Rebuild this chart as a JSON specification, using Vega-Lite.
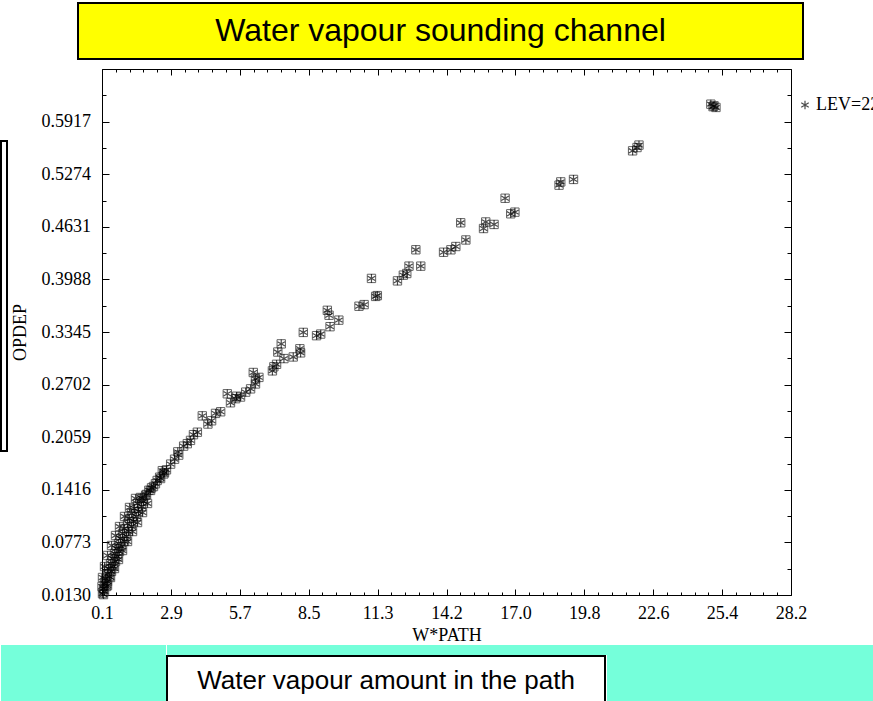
{
  "$schema": "https://vega.github.io/schema/vega-lite/v6.json",
  "background": "white",
  "padding": {"left": 0, "top": 2, "right": 0, "bottom": 0},
  "datasets": {
    "pts": [
      {"x":25.02,"y":0.610},{"x":25.14,"y":0.609},{"x":24.93,"y":0.613},{"x":25.06,"y":0.611},
      {"x":21.74,"y":0.556},{"x":21.92,"y":0.560},{"x":22.00,"y":0.563},
      {"x":18.81,"y":0.518},{"x":18.74,"y":0.514},{"x":19.33,"y":0.521},
      {"x":16.54,"y":0.498},{"x":16.77,"y":0.479},{"x":16.94,"y":0.481},
      {"x":14.73,"y":0.468},{"x":15.75,"y":0.469},{"x":15.66,"y":0.461},{"x":16.09,"y":0.466},
      {"x":14.94,"y":0.447},{"x":14.03,"y":0.432},{"x":14.33,"y":0.435},{"x":14.53,"y":0.439},
      {"x":12.90,"y":0.435},{"x":12.62,"y":0.415},{"x":13.10,"y":0.415},{"x":12.53,"y":0.406},
      {"x":12.39,"y":0.404},{"x":12.15,"y":0.397},{"x":11.09,"y":0.400},
      {"x":11.26,"y":0.378},{"x":11.33,"y":0.379},{"x":10.58,"y":0.366},{"x":10.79,"y":0.368},
      {"x":9.29,"y":0.361},{"x":9.36,"y":0.355},{"x":9.76,"y":0.349},{"x":9.40,"y":0.341},
      {"x":8.31,"y":0.334},{"x":8.85,"y":0.330},{"x":9.02,"y":0.332},
      {"x":7.41,"y":0.320},{"x":7.27,"y":0.310},{"x":8.17,"y":0.314},{"x":8.20,"y":0.309},
      {"x":7.52,"y":0.302},{"x":7.90,"y":0.304},{"x":7.11,"y":0.292},{"x":7.05,"y":0.287},{"x":7.22,"y":0.295},
      {"x":6.27,"y":0.285},{"x":6.36,"y":0.277},{"x":6.50,"y":0.279},{"x":6.16,"y":0.265},{"x":6.36,"y":0.271},
      {"x":5.75,"y":0.255},{"x":5.21,"y":0.259},{"x":5.55,"y":0.253},{"x":5.59,"y":0.256},{"x":5.34,"y":0.248},{"x":5.96,"y":0.261},
      {"x":4.19,"y":0.232},{"x":4.42,"y":0.222},{"x":4.73,"y":0.235},{"x":4.94,"y":0.237},{"x":4.57,"y":0.226},
      {"x":3.99,"y":0.212},{"x":3.83,"y":0.209},{"x":3.71,"y":0.202},{"x":3.58,"y":0.198},{"x":3.43,"y":0.195},
      {"x":3.19,"y":0.188},{"x":3.23,"y":0.184},{"x":3.06,"y":0.179},{"x":2.90,"y":0.173},{"x":2.73,"y":0.166},
      {"x":2.56,"y":0.165},{"x":2.62,"y":0.161},{"x":2.45,"y":0.157},{"x":2.28,"y":0.149},{"x":2.35,"y":0.153},
      {"x":2.12,"y":0.144},{"x":2.01,"y":0.141},{"x":1.88,"y":0.135},{"x":1.74,"y":0.131},
      {"x":2.08,"y":0.1408},{"x":2.20,"y":0.1456},{"x":2.49,"y":0.1554},{"x":2.65,"y":0.1627},
      {"x":1.916,"y":0.1359},{"x":1.671,"y":0.1322},{"x":1.794,"y":0.1273},{"x":1.549,"y":0.1249},
      {"x":1.712,"y":0.1212},{"x":1.426,"y":0.1187},{"x":1.590,"y":0.1151},{"x":1.304,"y":0.1126},
      {"x":1.508,"y":0.1089},{"x":1.222,"y":0.1065},{"x":1.386,"y":0.1028},{"x":1.141,"y":0.1004},
      {"x":1.304,"y":0.0967},{"x":1.018,"y":0.0943},{"x":1.182,"y":0.0906},{"x":0.937,"y":0.0882},
      {"x":1.100,"y":0.0845},{"x":0.855,"y":0.0821},{"x":1.018,"y":0.0784},{"x":0.773,"y":0.0760},
      {"x":0.896,"y":0.0723},{"x":0.692,"y":0.0699},{"x":0.814,"y":0.0662},{"x":0.610,"y":0.0638},
      {"x":0.733,"y":0.0601},{"x":0.529,"y":0.0577},{"x":0.651,"y":0.0540},{"x":0.447,"y":0.0515},
      {"x":0.569,"y":0.0479},{"x":0.365,"y":0.0454},{"x":0.488,"y":0.0418},{"x":0.324,"y":0.0393},
      {"x":0.406,"y":0.0356},{"x":0.243,"y":0.0332},{"x":0.324,"y":0.0295},{"x":0.202,"y":0.0271},
      {"x":0.284,"y":0.0234},{"x":0.161,"y":0.0210},{"x":0.202,"y":0.0173},{"x":0.120,"y":0.0148},
      {"x":0.161,"y":0.0135},
      {"x":1.957,"y":0.1249},{"x":1.753,"y":0.1138},{"x":1.549,"y":0.1016},{"x":1.345,"y":0.0906},
      {"x":1.141,"y":0.0784},{"x":0.937,"y":0.0674},{"x":0.773,"y":0.0564},{"x":0.610,"y":0.0454},
      {"x":0.447,"y":0.0344},{"x":0.324,"y":0.0246},
      {"x":1.467,"y":0.1310},{"x":1.222,"y":0.1200},{"x":1.018,"y":0.1090},{"x":0.814,"y":0.0967},
      {"x":0.651,"y":0.0857},{"x":0.488,"y":0.0735},{"x":0.324,"y":0.0613},{"x":0.202,"y":0.0478},
      {"x":0.120,"y":0.0344},{"x":0.100,"y":0.0234}
    ]
  },
  "spacing": 0,
  "vconcat": [
    {
      "spacing": 0,
      "hconcat": [
        {"width": 76, "height": 56, "data": {"values": [{}]}, "mark": {"type": "text", "text": ""}},
        {"width": 725, "height": 56, "data": {"values": [{}]},
         "view": {"fill": "#FFFF00", "stroke": "black", "strokeWidth": 2},
         "mark": {"type": "text", "text": "Water vapour sounding channel", "font": "Liberation Sans", "fontSize": 32, "color": "black", "baseline": "middle", "align": "center"}}
      ]
    },
    {
      "spacing": 3,
      "hconcat": [
        {
          "spacing": 0,
          "vconcat": [
            {"width": 6, "height": 71, "data": {"values": [{}]}, "mark": {"type": "text", "text": ""}},
            {"width": 6, "height": 310, "data": {"values": [{}]},
             "view": {"fill": "white", "stroke": "black", "strokeWidth": 2},
             "mark": {"type": "text", "text": ""}}
          ]
        },
        {
          "width": 689,
          "height": 526,
          "data": {"name": "pts"},
          "resolve": {"axis": {"x": "independent", "y": "independent"}},
          "layer": [
            {
              "mark": {"type": "point", "shape": "square", "filled": false, "color": "#222222", "size": 70, "strokeWidth": 1},
              "encoding": {
                "x": {"field": "x", "type": "quantitative", "scale": {"domain": [0.1, 28.2], "nice": false, "zero": false},
                  "axis": {"orient": "bottom", "values": [0.1, 2.91, 5.72, 8.53, 11.34, 14.15, 16.96, 19.77, 22.58, 25.39, 28.2],
                    "labelExpr": "format(datum.value, '.1f')", "tickSize": -6, "labelPadding": 15, "title": "W*PATH", "titlePadding": 4}},
                "y": {"field": "y", "type": "quantitative", "scale": {"domain": [0.013, 0.656], "nice": false, "zero": false},
                  "axis": {"orient": "left", "values": [0.013, 0.0773, 0.1416, 0.2059, 0.2702, 0.3345, 0.3988, 0.4631, 0.5274, 0.5917, 0.656],
                    "labelExpr": "datum.value > 0.65 ? '' : format(datum.value, '.4f')", "tickSize": -7, "labelPadding": 18.5, "title": "OPDEP", "titlePadding": 12}}
              }
            },
            {
              "mark": {"type": "point", "filled": false, "color": "black", "size": 75, "strokeWidth": 1.2},
              "encoding": {
                "x": {"field": "x", "type": "quantitative",
                  "axis": {"orient": "top", "values": [0.1, 2.91, 5.72, 8.53, 11.34, 14.15, 16.96, 19.77, 22.58, 25.39, 28.2], "labels": false, "tickSize": -6, "title": null}},
                "y": {"field": "y", "type": "quantitative",
                  "axis": {"orient": "right", "values": [0.013, 0.0773, 0.1416, 0.2059, 0.2702, 0.3345, 0.3988, 0.4631, 0.5274, 0.5917, 0.656], "labels": false, "tickSize": -7, "title": null}},
                "shape": {"datum": "LEV=22", "type": "nominal",
                  "scale": {"range": ["M0,-1L0,1M-0.866,-0.5L0.866,0.5M-0.866,0.5L0.866,-0.5"]},
                  "legend": {"title": null, "orient": "none", "legendX": 795, "legendY": 93, "padding": 0,
                    "labelFont": "Liberation Serif", "labelFontSize": 18, "labelColor": "black", "labelOffset": 2, "labelLimit": 0,
                    "symbolStrokeColor": "black", "symbolStrokeWidth": 1.2, "symbolSize": 75}}
              }
            },
            {
              "mark": {"type": "point", "opacity": 0},
              "encoding": {
                "x": {"field": "x", "type": "quantitative",
                  "axis": {"orient": "bottom", "domain": false, "labels": false, "title": null, "tickSize": -3,
                    "values": [0.662,1.224,1.786,2.348,3.472,4.034,4.596,5.158,6.282,6.844,7.406,7.968,9.092,9.654,10.216,10.778,11.902,12.464,13.026,13.588,14.712,15.274,15.836,16.398,17.522,18.084,18.646,19.208,20.332,20.894,21.456,22.018,23.142,23.704,24.266,24.828,25.952,26.514,27.076,27.638]}},
                "y": {"field": "y", "type": "quantitative",
                  "axis": {"orient": "left", "domain": false, "labels": false, "title": null, "tickSize": -4,
                    "values": [0.04515,0.10945,0.17375,0.23805,0.30235,0.36665,0.43095,0.49525,0.55955,0.62385]}}
              }
            },
            {
              "mark": {"type": "point", "opacity": 0},
              "encoding": {
                "x": {"field": "x", "type": "quantitative",
                  "axis": {"orient": "top", "domain": false, "labels": false, "title": null, "tickSize": -3,
                    "values": [0.662,1.224,1.786,2.348,3.472,4.034,4.596,5.158,6.282,6.844,7.406,7.968,9.092,9.654,10.216,10.778,11.902,12.464,13.026,13.588,14.712,15.274,15.836,16.398,17.522,18.084,18.646,19.208,20.332,20.894,21.456,22.018,23.142,23.704,24.266,24.828,25.952,26.514,27.076,27.638]}},
                "y": {"field": "y", "type": "quantitative",
                  "axis": {"orient": "right", "domain": false, "labels": false, "title": null, "tickSize": -4,
                    "values": [0.04515,0.10945,0.17375,0.23805,0.30235,0.36665,0.43095,0.49525,0.55955,0.62385]}}
              }
            }
          ]
        }
      ]
    },
    {
      "spacing": 0,
      "hconcat": [
        {"width": 165, "height": 62, "data": {"values": [{}]}, "view": {"fill": "#75FFDA", "stroke": null}, "mark": {"type": "text", "text": ""}},
        {
          "spacing": 0,
          "vconcat": [
            {"width": 440, "height": 10, "data": {"values": [{}]}, "view": {"fill": "#75FFDA", "stroke": null}, "mark": {"type": "text", "text": ""}},
            {"width": 438, "height": 50, "data": {"values": [{}]},
             "view": {"fill": "white", "stroke": "black", "strokeWidth": 2},
             "mark": {"type": "text", "text": "Water vapour amount in the path", "font": "Liberation Sans", "fontSize": 26, "color": "black", "baseline": "middle", "align": "center"}}
          ]
        },
        {"width": 268, "height": 62, "data": {"values": [{}]}, "view": {"fill": "#75FFDA", "stroke": null}, "mark": {"type": "text", "text": ""}}
      ]
    }
  ],
  "config": {
    "view": {"stroke": null},
    "axis": {
      "grid": false, "domainColor": "black", "tickColor": "black", "labelColor": "black", "titleColor": "black",
      "labelFont": "Liberation Serif", "titleFont": "Liberation Serif", "labelFontSize": 18, "titleFontSize": 18,
      "titleFontWeight": "normal", "labelFlush": false, "labelOverlap": false, "tickWidth": 1, "domainWidth": 1
    }
  }
}
